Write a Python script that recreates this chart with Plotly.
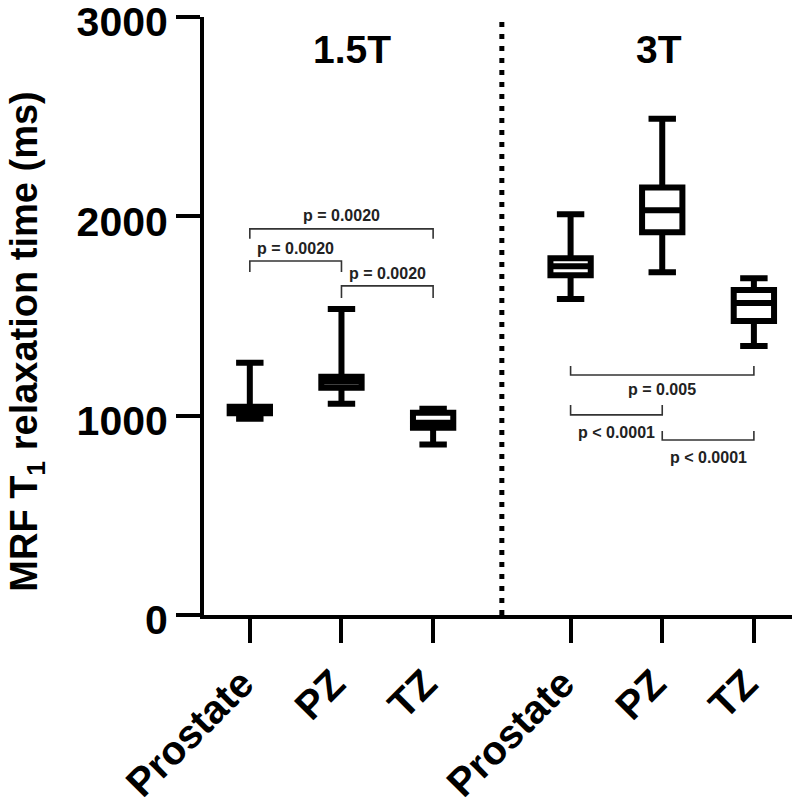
import plotly.graph_objects as go

# ---- data ----
categories = ["Prostate", "PZ", "TZ", "Prostate", "PZ", "TZ"]
positions = [1, 2, 3, 4.5, 5.5, 6.5]
lowerfence = [985, 1060, 855, 1585, 1720, 1350]
q1 = [1012, 1140, 940, 1705, 1920, 1475]
median = [1032, 1172, 965, 1750, 2030, 1565]
q3 = [1045, 1195, 1015, 1790, 2145, 1630]
upperfence = [1265, 1535, 1035, 2010, 2490, 1690]

y_ticks = [0, 1000, 2000, 3000]

field_labels = ["1.5T", "3T"]
field_label_x = [2.12, 5.47]
divider_x = 3.75

# comparisons
cmp_x0 = [1, 1, 2, 4.5, 4.5, 5.5]
cmp_x1 = [3, 2, 3, 6.5, 5.5, 6.5]
cmp_y = [1937, 1776, 1651, 1204, 1004, 878]
cmp_tick = [1887, 1721, 1590, 1249, 1054, 923]
cmp_text = ["p = 0.0020", "p = 0.0020", "p = 0.0020", "p = 0.005", "p < 0.0001", "p < 0.0001"]
cmp_text_x = [2.0, 1.5, 2.5, 5.5, 5.0, 6.0]
cmp_text_y = [2005, 1838, 1712, 1132, 916, 790]

FONT = "Liberation Sans, Arial, Helvetica, sans-serif"

fig = go.Figure()
fig.add_trace(go.Box(
    x=positions, q1=q1, median=median, q3=q3,
    lowerfence=lowerfence, upperfence=upperfence,
    width=0.44, whiskerwidth=0.68,
    line=dict(color="black", width=6),
    fillcolor="white", boxpoints=False, showlegend=False,
    hoverinfo="skip",
))

shapes = []
shapes.append(dict(type="line", xref="x", yref="y", x0=divider_x, x1=divider_x,
                   y0=0, y1=3000, line=dict(color="black", width=5, dash="5px,7px")))
for x0, x1, y, yt in zip(cmp_x0, cmp_x1, cmp_y, cmp_tick):
    shapes.append(dict(type="path", xref="x", yref="y",
                       path=f"M {x0},{yt} L {x0},{y} L {x1},{y} L {x1},{yt}",
                       line=dict(color="#333333", width=1.6)))

annotations = []
for t, x, y in zip(cmp_text, cmp_text_x, cmp_text_y):
    annotations.append(dict(x=x, y=y, xref="x", yref="y", text=t, showarrow=False,
                            font=dict(family=FONT, size=16, color="#222222", weight="bold"),
                            xanchor="center", yanchor="middle"))
for t, x in zip(field_labels, field_label_x):
    annotations.append(dict(x=x, y=2835, xref="x", yref="y", text=t, showarrow=False,
                            font=dict(family=FONT, size=39, color="black", weight="bold"),
                            xanchor="center", yanchor="middle"))
annotations.append(dict(x=-0.296, y=0.457, xref="paper", yref="paper",
                        text="MRF T<sub>1</sub> relaxation time (ms)", showarrow=False,
                        textangle=-90, xanchor="center", yanchor="middle",
                        font=dict(family=FONT, size=38, color="black", weight="bold")))

fig.update_layout(
    width=794, height=792,
    margin=dict(l=196, r=0, t=9, b=185, autoexpand=False),
    plot_bgcolor="white", paper_bgcolor="white",
    shapes=shapes, annotations=annotations,
    showlegend=False,
)
fig.update_xaxes(
    range=[0.5, 7.025], tickvals=positions, ticktext=categories, tickangle=-45,
    ticks="outside", ticklen=24, tickwidth=4, tickcolor="black",
    showline=True, linewidth=4, linecolor="black", showgrid=False, zeroline=False,
    tickfont=dict(family=FONT, size=40, color="black", weight="bold"),
    automargin=False, ticklabeloverflow="allow",
    ticklabelstandoff=1, ticklabelshift=-8,
)
fig.update_yaxes(
    range=[0, 3000], tickvals=y_ticks,
    ticks="outside", ticklen=24, tickwidth=4, tickcolor="black",
    showline=True, linewidth=4, linecolor="black", showgrid=False, zeroline=False,
    tickfont=dict(family=FONT, size=41, color="black", weight="bold"),
    automargin=False, ticklabeloverflow="allow", ticklabelshift=5,
)

fig.write_html("out.html")
